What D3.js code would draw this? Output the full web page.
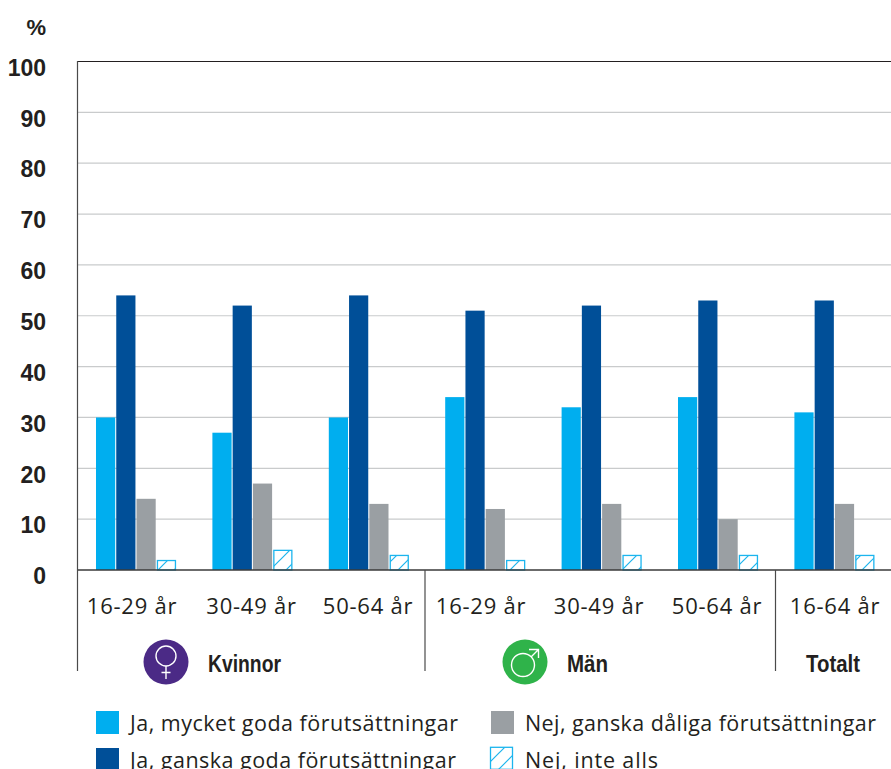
<!DOCTYPE html>
<html><head><meta charset="utf-8"><style>html,body{margin:0;padding:0;background:#fff}svg{display:block}</style>
<script src="https://cdn.jsdelivr.net/npm/d3@7"></script></head><body><svg id="c" width="891" height="769"></svg>
<script>
const categories=["16-29 år","30-49 år","50-64 år","16-29 år ","30-49 år ","50-64 år ","16-64 år"];
const muckGoda=[30,27,30,34,32,34,31];
const ganskaGoda=[54,52,54,51,52,53,53];
const ganskaDaliga=[14,17,13,12,13,10,13];
const inteAlls=[2,4,3,2,3,3,3];
const seriesNames=["Ja, mycket goda förutsättningar","Ja, ganska goda förutsättningar","Nej, ganska dåliga förutsättningar","Nej, inte alls"];
const seriesValues=[muckGoda,ganskaGoda,ganskaDaliga,inteAlls];
const yTicks=[0,10,20,30,40,50,60,70,80,90,100];

const seriesColors=["#00aeef","#004f98","#9a9fa3","url(#hatch)"];
const legendColors=["#00aeef","#004f98","#9a9fa3","url(#hatchLegend)"];
const catCenters=[132,251.5,368,481,599,717,835];
const legendWidths=[328,326,351,133];

const svg=d3.select("#c");
const defs=svg.append("defs");
[["hatch",8],["hatchLegend",4]].forEach(([id,tx])=>{
 const p=defs.append("pattern").attr("id",id).attr("patternUnits","userSpaceOnUse").attr("width",16).attr("height",16).attr("patternTransform",`translate(${tx},0)`);
 p.append("rect").attr("width",16).attr("height",16).attr("fill","#fff");
 p.append("path").attr("d","M-2,18L18,-2M-2,2L2,-2M14,18L18,14").attr("stroke","#1cb5ee").attr("stroke-width",1.2);
});
const y=d3.scaleLinear().domain([0,100]).range([570,61.5]);
const x0=d3.scaleBand().domain(categories).range([77,891.8]);
const x1=d3.scaleBand().domain(d3.range(4)).range([19,100]);
const bw=19.2;
const ink="#231f20";
const sans="'Liberation Sans',Arial,sans-serif", body="'Open Sans',sans-serif";

svg.append("g").selectAll("line").data(yTicks.filter(d=>d>0&&d<100)).join("line")
 .attr("x1",77).attr("x2",891).attr("y1",d=>y(d)).attr("y2",d=>y(d)).attr("stroke","#c9cbcc").attr("stroke-width",1.2);
svg.append("line").attr("x1",77).attr("x2",891).attr("y1",y(100)).attr("y2",y(100)).attr("stroke",ink).attr("stroke-width",1.2);

seriesValues.forEach((vals,i)=>{
 svg.append("g").selectAll("rect").data(vals).join("rect")
  .attr("x",(d,j)=>x0(categories[j])+x1(i)+(i==3?.7:0))
  .attr("width",i==3?bw-1.2:bw)
  .attr("y",d=>y(d)+(i==3?.7:0))
  .attr("height",d=>y(0)-y(d)-(i==3?.7:0))
  .attr("fill",seriesColors[i])
  .attr("stroke",i==3?"#1cb5ee":"none").attr("stroke-width",i==3?1.3:0);
});
svg.append("line").attr("x1",77).attr("x2",891).attr("y1",570).attr("y2",570).attr("stroke","#3a3a3a").attr("stroke-width",1.6);
[[77.5,61,671],[425,570,671],[775.5,570,671]].forEach(v=>svg.append("line").attr("x1",v[0]).attr("x2",v[0]).attr("y1",v[1]).attr("y2",v[2]).attr("stroke","#4a4a4a").attr("stroke-width",1.2));

svg.append("g").selectAll("text").data(yTicks).join("text")
 .attr("x",46).attr("y",d=>y(d)+14.2).attr("text-anchor","end").attr("font-family",sans).attr("font-weight",700).attr("font-size",23).attr("fill",ink).text(d=>d);
svg.append("text").attr("x",46).attr("y",34.5).attr("text-anchor","end").attr("font-family",sans).attr("font-weight",700).attr("font-size",22).attr("fill",ink).text("%");

svg.append("g").selectAll("text").data(categories).join("text")
 .attr("x",(d,i)=>catCenters[i]).attr("y",614).attr("text-anchor","middle").attr("font-family",body).attr("font-size",22).attr("letter-spacing",.75).attr("fill",ink).text(d=>d.trim());

const col=["#4b2a86","#2fb34a"];
[166,525].forEach((cx,i)=>{
 const g=svg.append("g").attr("transform",`translate(${cx},662)`);
 g.append("circle").attr("r",22.5).attr("fill",col[i]);
 const s=g.append("g").attr("fill","none").attr("stroke","#fff").attr("stroke-width",1.4);
 if(i==0){s.append("circle").attr("cy",-6).attr("r",10);s.append("path").attr("d","M0,4V17M-4.5,10.500H4.500");}
 else{s.append("circle").attr("cx",-2).attr("cy",3).attr("r",11.5);s.append("path").attr("d","M6,-5L13.500,-12.500M4,-12.500H13.500V-4");}
});
[[208,"Kvinnor",73],[567,"Män",41],[806,"Totalt",54]].forEach(d=>svg.append("text").attr("x",d[0]).attr("y",671.5).attr("font-family",sans).attr("font-weight",700).attr("font-size",23).attr("textLength",d[2]).attr("lengthAdjust","spacingAndGlyphs").attr("fill",ink).text(d[1]));

const legendX=[96,96,491,491],legendY=[711,748,711,748];
seriesNames.forEach((n,i)=>{
 svg.append("rect").attr("x",legendX[i]+(i==3?-.5:0)).attr("y",legendY[i]+(i==3?-.7:0)).attr("width",i==3?22:23).attr("height",i==3?22:23)
  .attr("fill",legendColors[i]).attr("stroke",i==3?"#1cb5ee":"none").attr("stroke-width",i==3?1.3:0);
 svg.append("text").attr("x",legendX[i]+34).attr("y",legendY[i]+20).attr("font-family",body).attr("font-size",21.5).attr("textLength",legendWidths[i]).attr("fill",ink).text(n);
});
</script></body></html>
